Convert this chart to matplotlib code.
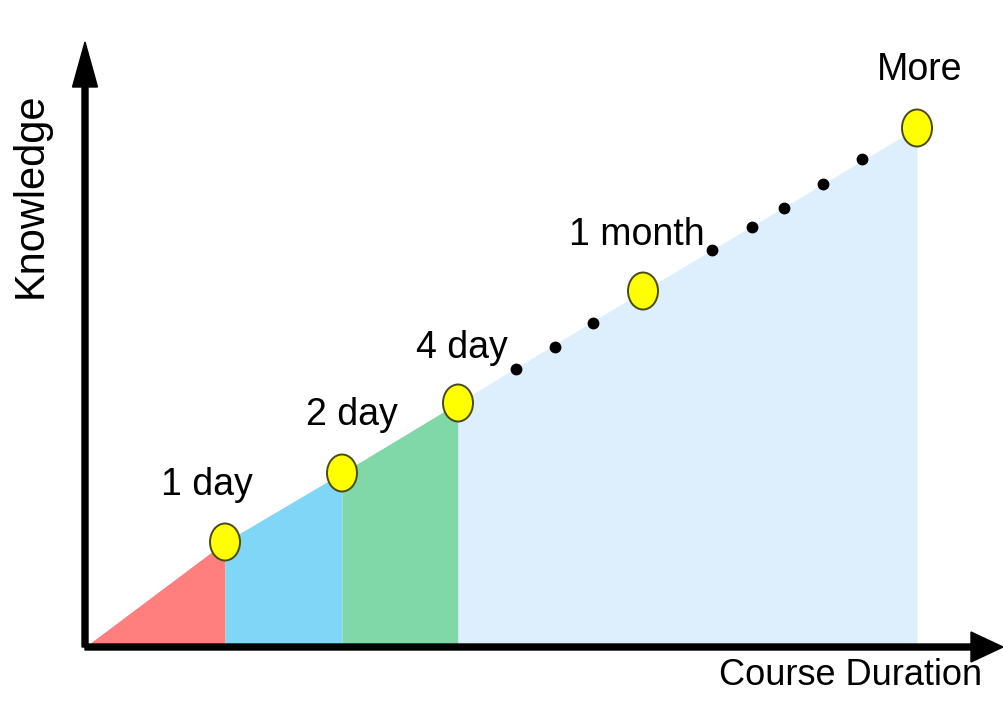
import matplotlib
matplotlib.use("Agg")
import matplotlib.pyplot as plt
import numpy as np
from matplotlib.patches import Ellipse

plt.rcParams['font.family'] = ['Liberation Sans', 'DejaVu Sans']

# milestones along the knowledge curve (duration, knowledge)
stage_labels = ['1 day', '2 day', '4 day', '1 month', 'More']
stage_x = [140, 257, 373, 558, 832]
stage_y = [105, 174, 244, 356, 519]

# "..." dots between milestones
dot_x = [431, 470, 508, 627, 667, 699, 738, 777]
dot_y = [278, 300, 324, 397, 420, 439, 463, 488]

# coloured bands under the curve
band_colors = ['#ff7f7f', '#7fd6f6', '#80d8a8', '#ddeefc']
band_edges = [0, 140, 257, 373, 832]

fig = plt.figure(figsize=(10.04, 7.15), dpi=100)
ax = fig.add_axes([0, 0, 1, 1])
ax.set_xlim(-85, 919)
ax.set_ylim(-68, 647)
ax.axis('off')

curve_x = [0] + stage_x
curve_y = [0] + stage_y

for i, c in enumerate(band_colors):
    x0, x1 = band_edges[i], band_edges[i + 1]
    xs = [x for x in curve_x if x0 <= x <= x1]
    ys = np.interp(xs, curve_x, curve_y)
    ax.fill_between(xs, 0, ys, color=c, lw=0, zorder=1)

# dots
ax.plot(dot_x, dot_y, 'o', color='black', ms=7.5, zorder=3)

# yellow markers
for x, y in zip(stage_x, stage_y):
    ax.add_patch(Ellipse((x, y), 30, 37, facecolor='#ffff00',
                         edgecolor='#4a4a10', lw=1.4, zorder=4))

# labels
label_x = [122, 267, 377, 552, 835]
label_y = [152, 222, 289, 402, 567]
for t, x, y in zip(stage_labels, label_x, label_y):
    ax.text(x, y, t, fontsize=27, ha='center', va='baseline', zorder=5)

# axes arrows
ax.arrow(0, 0, 0, 605, width=6, head_width=25, head_length=45,
         length_includes_head=True, color='black', zorder=6)
ax.arrow(0, 0, 918, 0, width=6, head_width=30, head_length=32,
         length_includes_head=True, color='black', zorder=6)

ax.text(766, -38, 'Course Duration', fontsize=26, ha='center', va='baseline')
ax.text(-54, 452, 'Knowledge', fontsize=30, rotation=90, ha='center', va='center')

fig.savefig('out.png', dpi=100)
